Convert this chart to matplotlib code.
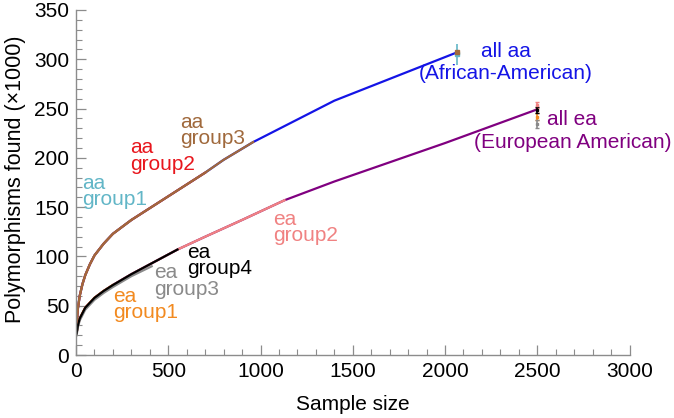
import numpy as np
import matplotlib
matplotlib.use("Agg")
import matplotlib.pyplot as plt
from matplotlib.ticker import MultipleLocator

plt.rcParams['font.family'] = ['Liberation Sans', 'DejaVu Sans']

# discovery curves (sample size, polymorphisms found x1000)
aa_x = [3, 10, 20, 35, 50, 75, 100, 150, 200, 300, 400, 500, 600, 700, 800, 960, 1400, 2065]
aa_y = [30, 47, 60, 72, 81, 92, 101, 113, 123, 137, 149, 161, 173, 185, 198, 216, 258, 307]

ea_x = [3, 10, 20, 50, 100, 150, 200, 300, 400, 550, 700, 900, 1130, 1400, 2000, 2497]
ea_y = [22, 30, 37, 48, 58, 65, 71, 82, 92, 107, 120, 137, 157, 176, 215, 249]

# gray group sits a little under the rest
ea3_x = [3, 10, 20, 50, 100, 150, 200, 300, 410]
ea3_y = [20, 28, 35, 46, 56, 63, 69, 80, 90]

# last sample size reached by each subgroup
aa_group_end = [300, 700, 960]
aa_colors = ['#62b6c7', '#e8161d', '#a0693c']

ea_group_end = [1130, 200, 550]
ea_colors = ['#f08282', '#f28a20', '#000000']

# extrapolated totals at full sample size (mean, half-width)
aa_total_n = 2065
aa_tot_mean = [305, 307.5]
aa_tot_err = [11, 1.2]
aa_tot_colors = ['#62b6c7', '#a0693c']

ea_total_n = 2497
ea_tot_mean = [254, 241.5, 234, 248.5]
ea_tot_err = [3, 3.5, 4, 3.5]
ea_tot_colors = ['#f08282', '#f28a20', '#8a8a8a', '#000000']

fig = plt.figure(figsize=(6.74, 4.18), dpi=100)
ax = fig.add_axes([0.1128, 0.1507, 0.8212, 0.8254])

lw = 1.6
ax.plot(aa_x, aa_y, color='#1414e6', lw=lw)
for end, c in zip(aa_group_end, aa_colors):
    xs = [x for x in aa_x if x <= end]
    ax.plot(xs, aa_y[:len(xs)], color=c, lw=lw)

ax.plot(ea_x, ea_y, color='#800080', lw=lw)
for end, c in zip(ea_group_end[:2], ea_colors[:2]):
    xs = [x for x in ea_x if x <= end]
    ax.plot(xs, ea_y[:len(xs)], color=c, lw=lw)
ax.plot(ea3_x, ea3_y, color='#8a8a8a', lw=lw)
xs = [x for x in ea_x if x <= ea_group_end[2]]
ax.plot(xs, ea_y[:len(xs)], color=ea_colors[2], lw=lw)

for m, e, c in zip(aa_tot_mean, aa_tot_err, aa_tot_colors):
    ax.errorbar(aa_total_n, m, yerr=e, color=c, marker='s', ms=2.5, lw=1.2, capsize=0)
for m, e, c in zip(ea_tot_mean, ea_tot_err, ea_tot_colors):
    ax.errorbar(ea_total_n, m, yerr=e, color=c, marker='s', ms=2, lw=1.2, capsize=1.5)

fs = 15
lab = dict(fontsize=fs, linespacing=0.82, va='center', ha='left')
ax.text(33, 166, 'aa\ngroup1', color=aa_colors[0], **lab)
ax.text(293, 202, 'aa\ngroup2', color=aa_colors[1], **lab)
ax.text(564, 228, 'aa\ngroup3', color=aa_colors[2], **lab)

ax.text(200, 51, 'ea\ngroup1', color='#f28a20', **lab)
ax.text(423, 75, 'ea\ngroup3', color='#8a8a8a', **lab)
ax.text(602, 96, 'ea\ngroup4', color='#000000', **lab)
ax.text(1068, 129, 'ea\ngroup2', color='#f08282', **lab)

ax.text(2331, 302, 'all aa', color='#1414e6', fontsize=fs, ha='center', va='baseline')
ax.text(2331, 280, '(African-American)', color='#1414e6', fontsize=fs, ha='center', va='baseline')
ax.text(2688, 233, 'all ea', color='#800080', fontsize=fs, ha='center', va='baseline')
ax.text(2690, 210, '(European American)', color='#800080', fontsize=fs, ha='center', va='baseline')

ax.set_xlim(0, 3000)
ax.set_ylim(0, 350)
ax.xaxis.set_major_locator(MultipleLocator(500))
ax.xaxis.set_minor_locator(MultipleLocator(100))
ax.yaxis.set_major_locator(MultipleLocator(50))
ax.yaxis.set_minor_locator(MultipleLocator(10))

for s in ['top', 'right']:
    ax.spines[s].set_visible(False)
for s in ['left', 'bottom']:
    ax.spines[s].set_color('#8c8c8c')
    ax.spines[s].set_linewidth(1.0)

ax.tick_params(which='both', direction='in', color='#8c8c8c', labelsize=fs)
ax.tick_params(which='major', length=7, width=0.9)
ax.tick_params(which='minor', length=4, width=0.8)
ax.tick_params(axis='y', pad=5)
ax.tick_params(axis='x', pad=5)

ax.set_xlabel('Sample size', fontsize=fs)
ax.set_ylabel('Polymorphisms found (\u00d71000)', fontsize=15.5)
ax.xaxis.set_label_coords(0.5, -0.115)
ax.yaxis.set_label_coords(-0.09, 0.51)

fig.savefig('out.png', dpi=100)
